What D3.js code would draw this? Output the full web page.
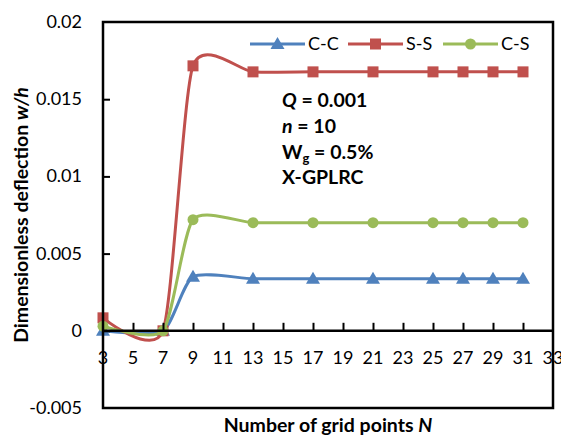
<!DOCTYPE html>
<html>
<head>
<meta charset="utf-8">
<script src="https://cdn.jsdelivr.net/npm/d3@7"></script>
<style>
  html, body { margin: 0; padding: 0; background: #fff; }
  svg { display: block; }
  text { font-family: Lato, "Open Sans", sans-serif; fill: #000; }
</style>
</head>
<body>
<svg id="chart" width="561" height="436"></svg>
<script>
// Grid points N
const gridPoints = [3, 7, 9, 13, 17, 21, 25, 27, 29, 31];
// Dimensionless deflection w/h per boundary condition
const clampedClamped = [0.0000, 0.0000, 0.0035, 0.00337, 0.00337, 0.00337, 0.00337, 0.00337, 0.00337, 0.00337];
const simplySimply   = [0.00084, 0.0000, 0.01716, 0.01677, 0.01677, 0.01677, 0.01677, 0.01677, 0.01677, 0.01677];
const clampedSimply  = [0.0003, 0.0000, 0.0072, 0.0070, 0.0070, 0.0070, 0.0070, 0.0070, 0.0070, 0.0070];
const seriesNames = ["C-C", "S-S", "C-S"];
const seriesColors = ["#4F81BD", "#C0504D", "#9BBB59"];
const xTicks = [3, 5, 7, 9, 11, 13, 15, 17, 19, 21, 23, 25, 27, 29, 31, 33];
const yTicks = [-0.005, 0, 0.005, 0.01, 0.015, 0.02];
const yTickLabels = ["-0.005", "0", "0.005", "0.01", "0.015", "0.02"];

const svg = d3.select("#chart");
const plotL = 103, plotR = 553, plotT = 22, plotB = 408;

const x = d3.scaleLinear().domain([3, 33]).range([plotL, plotR]);
const y = d3.scaleLinear().domain([-0.005, 0.02]).range([plotB, plotT]);

const series = [clampedClamped, simplySimply, clampedSimply].map((vals, i) => ({
  name: seriesNames[i],
  color: seriesColors[i],
  points: gridPoints.map((n, j) => ({ n, v: vals[j] }))
}));

// Tick labels (drawn under the axis lines)
svg.append("g").selectAll("text").data(xTicks).join("text")
  .attr("x", d => x(d)).attr("y", y(0) + 33)
  .attr("text-anchor", "middle").attr("font-size", 18)
  .text(d => d);

svg.append("g").selectAll("text").data(yTicks).join("text")
  .attr("x", 82).attr("y", d => y(d) + 6)
  .attr("text-anchor", "end").attr("font-size", 18)
  .text((d, i) => yTickLabels[i]);

// Series lines, smoothed
const line = d3.line().x(d => x(d.n)).y(d => y(d.v)).curve(d3.curveCardinal.tension(0.35));

const marker = (g, name, color, cx, cy) => {
  if (name === "C-C") {
    g.append("path").attr("d", d3.symbol(d3.symbolTriangle, 85)())
      .attr("transform", `translate(${cx},${cy + 1})`).attr("fill", color);
  } else if (name === "S-S") {
    g.append("rect").attr("x", cx - 5.5).attr("y", cy - 5.5).attr("width", 11).attr("height", 11).attr("fill", color);
  } else {
    g.append("circle").attr("cx", cx).attr("cy", cy).attr("r", 5.5).attr("fill", color);
  }
};

series.forEach(s => {
  const g = svg.append("g");
  g.append("path").datum(s.points).attr("d", line)
    .attr("fill", "none").attr("stroke", s.color).attr("stroke-width", 3);
  s.points.forEach(p => marker(g, s.name, s.color, x(p.n), y(p.v)));
});

// Axes: x axis at zero with inward ticks, y axis on the left with inward ticks
const xAxis = d3.axisTop(x).tickValues(xTicks.slice(1, -1)).tickSize(8).tickFormat("");
svg.append("g").attr("transform", `translate(0,${y(0)})`).call(xAxis)
  .call(g => g.select(".domain").remove())
  .call(g => g.selectAll("line").attr("stroke", "#000").attr("stroke-width", 2));
svg.append("line").attr("x1", plotL).attr("x2", plotR).attr("y1", y(0)).attr("y2", y(0))
  .attr("stroke", "#000").attr("stroke-width", 2.5);

const yAxis = d3.axisRight(y).tickValues(yTicks.slice(1, -1)).tickSize(7).tickFormat("");
svg.append("g").attr("transform", `translate(${plotL},0)`).call(yAxis)
  .call(g => g.select(".domain").remove())
  .call(g => g.selectAll("line").attr("stroke", "#000").attr("stroke-width", 2));

// Plot frame
svg.append("rect").attr("x", plotL).attr("y", plotT).attr("width", plotR - plotL).attr("height", plotB - plotT)
  .attr("fill", "none").attr("stroke", "#000").attr("stroke-width", 2.5);

// Legend
const legendX = [250, 348, 443];
const legend = svg.append("g");
series.forEach((s, i) => {
  const lx = legendX[i], ly = 44;
  legend.append("line").attr("x1", lx).attr("x2", lx + 55).attr("y1", ly).attr("y2", ly)
    .attr("stroke", s.color).attr("stroke-width", 3);
  marker(legend, s.name, s.color, lx + 27.5, ly);
  legend.append("text").attr("x", lx + 58).attr("y", ly + 6).attr("font-size", 18).text(s.name);
});

// Parameter annotation
const ann = svg.append("g").attr("font-size", 19.5).attr("font-weight", "bold");
const t1 = ann.append("text").attr("x", 282).attr("y", 107);
t1.append("tspan").attr("font-style", "italic").text("Q");
t1.append("tspan").text(" = 0.001");
const t2 = ann.append("text").attr("x", 282).attr("y", 133);
t2.append("tspan").attr("font-style", "italic").text("n");
t2.append("tspan").text(" = 10");
const t3 = ann.append("text").attr("x", 282).attr("y", 159);
t3.append("tspan").text("W");
t3.append("tspan").attr("font-size", 13).attr("dy", 4).text("g");
t3.append("tspan").attr("dy", -4).text(" = 0.5%");
ann.append("text").attr("x", 282).attr("y", 184).text("X-GPLRC");

// Axis titles
const yt = svg.append("text").attr("transform", "translate(28,215) rotate(-90)")
  .attr("text-anchor", "middle").attr("font-size", 19.5).attr("font-weight", "bold");
yt.append("tspan").text("Dimensionless deflection ");
yt.append("tspan").attr("font-style", "italic").text("w/h");

const xt = svg.append("text").attr("x", 328).attr("y", 432)
  .attr("text-anchor", "middle").attr("font-size", 19.5).attr("font-weight", "bold");
xt.append("tspan").text("Number of grid points ");
xt.append("tspan").attr("font-style", "italic").text("N");
</script>
</body>
</html>
